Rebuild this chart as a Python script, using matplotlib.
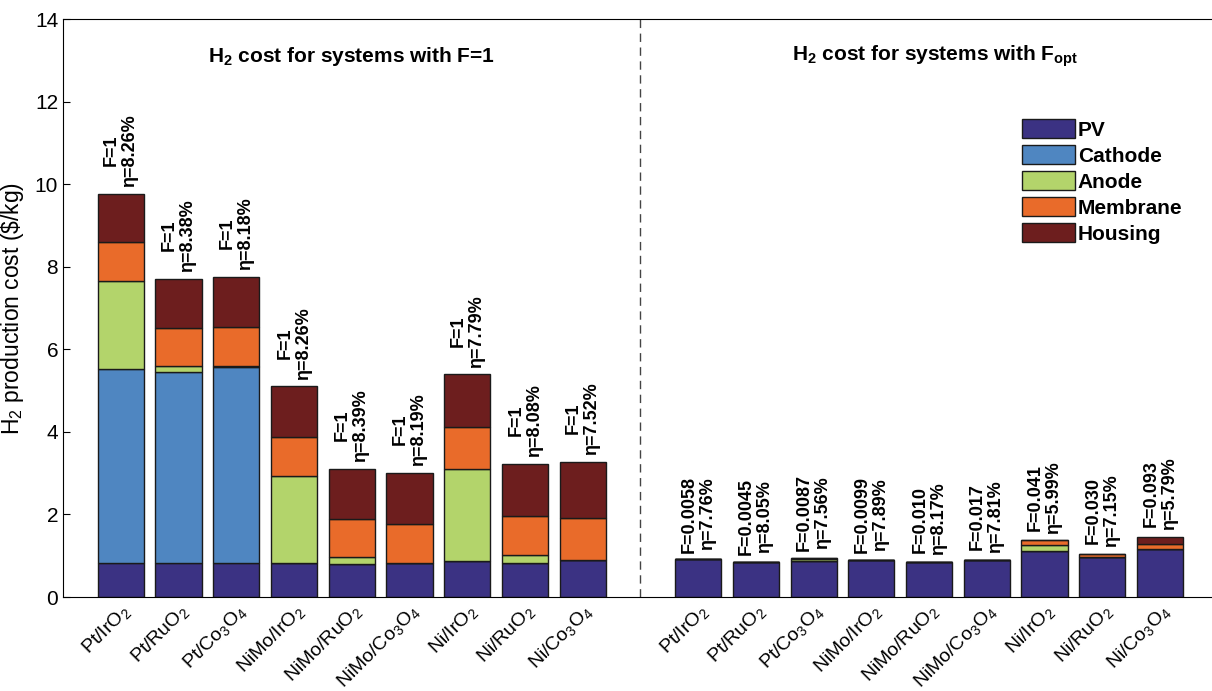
import numpy as np
import matplotlib
matplotlib.use('Agg')
from matplotlib import pyplot as plt

plt.rcParams['font.family'] = ['Liberation Sans', 'DejaVu Sans']
plt.rcParams['mathtext.fontset'] = 'custom'
plt.rcParams['mathtext.rm'] = 'Liberation Sans'
plt.rcParams['mathtext.it'] = 'Liberation Sans:italic'
plt.rcParams['mathtext.bf'] = 'Liberation Sans:bold'

# catalyst pairs (same order in both groups)
systems = [r'Pt/IrO$_2$', r'Pt/RuO$_2$', r'Pt/Co$_3$O$_4$',
           r'NiMo/IrO$_2$', r'NiMo/RuO$_2$', r'NiMo/Co$_3$O$_4$',
           r'Ni/IrO$_2$', r'Ni/RuO$_2$', r'Ni/Co$_3$O$_4$']

components = ['PV', 'Cathode', 'Anode', 'Membrane', 'Housing']
colors = ['#3b3283', '#4f86c1', '#b3d46b', '#e96b2a', '#6d1e1e']

# F=1 systems, cost contributions ($/kg)
pv_f1 = [0.82, 0.82, 0.82, 0.82, 0.80, 0.82, 0.87, 0.83, 0.90]
cathode_f1 = [4.71, 4.62, 4.75, 0.0, 0.0, 0.0, 0.0, 0.0, 0.0]
anode_f1 = [2.12, 0.16, 0.02, 2.12, 0.17, 0.0, 2.24, 0.19, 0.0]
membrane_f1 = [0.94, 0.92, 0.94, 0.94, 0.92, 0.95, 1.01, 0.95, 1.02]
housing_f1 = [1.17, 1.19, 1.23, 1.22, 1.22, 1.24, 1.27, 1.25, 1.35]
eta_f1 = ['8.26', '8.38', '8.18', '8.26', '8.39', '8.19', '7.79', '8.08', '7.52']

# F optimised systems
pv_opt = [0.91, 0.84, 0.87, 0.89, 0.84, 0.90, 1.12, 0.96, 1.16]
cathode_opt = [0.0, 0.0, 0.0, 0.0, 0.0, 0.0, 0.0, 0.0, 0.0]
anode_opt = [0.0, 0.0, 0.06, 0.0, 0.0, 0.0, 0.13, 0.0, 0.0]
membrane_opt = [0.0, 0.0, 0.01, 0.0, 0.0, 0.0, 0.12, 0.07, 0.12]
housing_opt = [0.0, 0.0, 0.0, 0.0, 0.0, 0.0, 0.0, 0.02, 0.17]
f_opt = ['0.0058', '0.0045', '0.0087', '0.0099', '0.010', '0.017', '0.041', '0.030', '0.093']
eta_opt = ['7.76', '8.05', '7.56', '7.89', '8.17', '7.81', '5.99', '7.15', '5.79']

x_f1 = np.arange(1, 10)
x_opt = np.arange(11, 20)

fig = plt.figure(figsize=(12.12, 6.91), dpi=100)
ax = fig.add_axes([0.052, 0.136, 0.948, 0.8365])

stack_f1 = [pv_f1, cathode_f1, anode_f1, membrane_f1, housing_f1]
stack_opt = [pv_opt, cathode_opt, anode_opt, membrane_opt, housing_opt]

for xs, stack in [(x_f1, stack_f1), (x_opt, stack_opt)]:
	bottom = np.zeros(len(xs))
	for vals, name, c in zip(stack, components, colors):
		vals = np.array(vals)
		ax.bar(xs, vals, width=0.8, bottom=bottom, color=c, edgecolor='#1a1a1a',
			   linewidth=1.0, label=name if xs[0] == 1 else None)
		bottom = bottom + vals
	if xs[0] == 1:
		totals_f1 = bottom
	else:
		totals_opt = bottom

# rotated annotations above the bars
for xi, tot, eta in zip(x_f1, totals_f1, eta_f1):
	ax.annotate('F=1\n\u03b7=' + eta + '%', (xi, tot), xytext=(0, 5),
				textcoords='offset points', rotation=90, ha='center', va='bottom',
				fontsize=13, fontweight='bold', linespacing=1.1)
for xi, tot, f, eta in zip(x_opt, totals_opt, f_opt, eta_opt):
	ax.annotate('F=' + f + '\n\u03b7=' + eta + '%', (xi, tot), xytext=(0, 5),
				textcoords='offset points', rotation=90, ha='center', va='bottom',
				fontsize=13, fontweight='bold', linespacing=1.1)

ax.axvline(10, color='#444444', linestyle=(0, (6, 4)), linewidth=1.0)

ax.text(5, 13.1, r'H$_\mathbf{2}$ cost for systems with F=1', ha='center', va='center',
		fontsize=15, fontweight='bold')
ax.text(15.1, 13.1, r'H$_\mathbf{2}$ cost for systems with F$_\mathbf{opt}$', ha='center', va='center',
		fontsize=15, fontweight='bold')

ax.set_xlim(0, 19.9)
ax.set_ylim(0, 14)
ax.set_yticks(np.arange(0, 15, 2))
ax.set_xticks(np.concatenate([x_f1, x_opt]))
ax.set_xticklabels(systems + systems, rotation=45, ha='right', rotation_mode='anchor')
ax.tick_params(axis='x', length=0, labelsize=14, pad=3)
ax.tick_params(axis='y', direction='in', length=5, labelsize=15)
ax.set_ylabel(r'H$_2$ production cost (\$/kg)', fontsize=16.5, labelpad=6)
ax.spines['right'].set_visible(False)

leg = ax.legend(loc='upper left', bbox_to_anchor=(0.826, 0.845), frameon=False,
				prop={'weight': 'bold', 'size': 15}, handlelength=2.5,
				handleheight=1.05, labelspacing=0.25, handletextpad=0.15, borderpad=0)

plt.savefig('out.png', dpi=100)
